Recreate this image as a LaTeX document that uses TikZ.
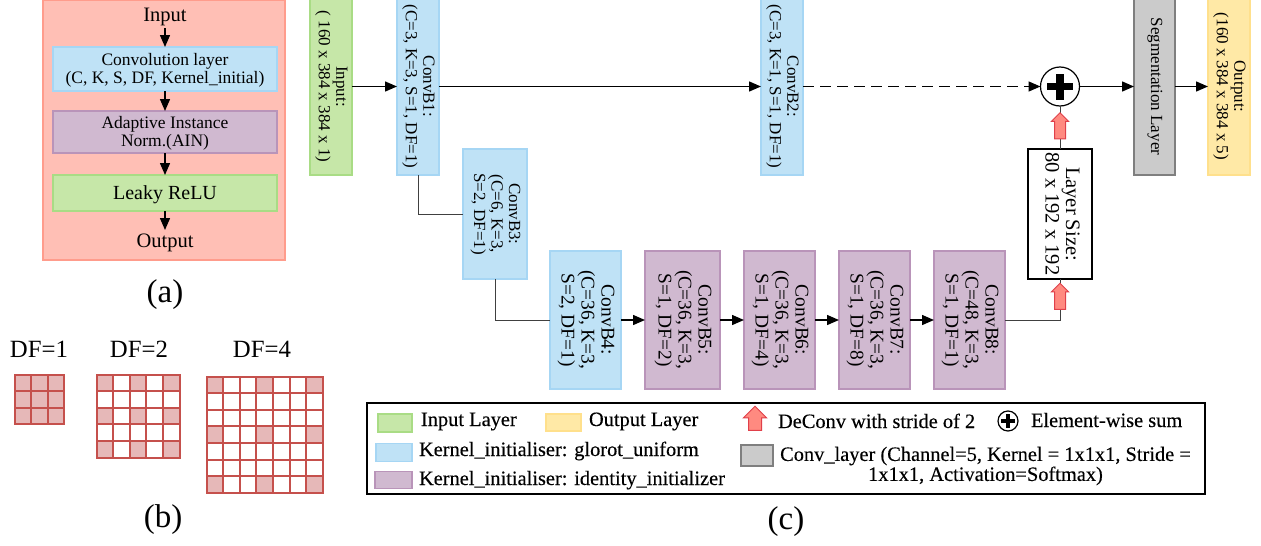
\documentclass[tikz,border=0pt]{standalone}
\usepackage{fontspec}
\usepackage{graphicx}
\setmainfont{Liberation Serif}
\newfontfamily\legfont[FakeBold=0.25]{Liberation Serif}
\usetikzlibrary{arrows.meta,shapes.arrows}
\definecolor{outerF}{HTML}{FFBFB5}\definecolor{outerD}{HTML}{FF9C8C}
\definecolor{blueF}{HTML}{BFE2F6}\definecolor{blueD}{HTML}{A6D6F4}
\definecolor{purpF}{HTML}{D0B9D0}\definecolor{purpD}{HTML}{B994B9}
\definecolor{greenF}{HTML}{C6E7A8}\definecolor{greenD}{HTML}{A9DC85}
\definecolor{yellF}{HTML}{FFE9A6}\definecolor{yellD}{HTML}{FFE08C}
\definecolor{grayF}{HTML}{CBCBCB}\definecolor{grayD}{HTML}{7F7F7F}
\definecolor{gridD}{HTML}{C5504C}\definecolor{gridF}{HTML}{E6B8B8}
\definecolor{redF}{HTML}{FF8A80}\definecolor{redD}{HTML}{E0404A}
\newcommand{\vtext}[2][\fontsize{17}{17.5}\selectfont]{\rotatebox[origin=c]{-90}{#1\begin{tabular}{@{}c@{}}#2\end{tabular}}}
\newcommand{\vlow}[1]{\vtext[\fontsize{19.4}{20}\selectfont]{#1}}
\newcommand{\dn}[1]{\raisebox{0pt}[\dimexpr\height+4pt\relax][\depth]{\begin{tabular}{@{}c@{}}#1\end{tabular}}}
\tikzset{
  x=1pt,y=-1pt,
  boxnode/.style={draw,line width=1.2pt,inner sep=0pt,outer sep=0pt,align=center},
  blueb/.style={boxnode,fill=blueF,draw=blueD},
  purpb/.style={boxnode,fill=purpF,draw=purpD},
  greenb/.style={boxnode,fill=greenF,draw=greenD},
  yellb/.style={boxnode,fill=yellF,draw=yellD},
  grayb/.style={boxnode,fill=grayF,draw=grayD},
  ablock/.style={minimum width=224pt,font=\fontsize{17.5}{18}\selectfont},
  flow/.style={-{Triangle[length=12pt,width=10pt]},line width=1.4pt,black},
  elbow/.style={line width=1pt,draw=black!75},
  redarrow/.style={single arrow,draw=redD,fill=redF,line width=1pt,rotate=90,inner xsep=0pt,inner ysep=5pt,outer sep=0pt,
     minimum height=26pt,single arrow head extend=3pt,single arrow head indent=0pt},
  sumnode/.style={circle,draw=black,fill=white,line width=1.2pt,inner sep=0pt,outer sep=0pt},
  plain/.style={inner sep=0pt,outer sep=0pt},
  legtext/.style={plain,anchor=base west,font=\legfont\fontsize{20.4}{20}\selectfont},
  captext/.style={plain,font=\fontsize{33}{36}\selectfont},
  dflabel/.style={plain,font=\fontsize{24.8}{26}\selectfont},
  ioa/.style={plain,font=\fontsize{20.5}{22}\selectfont},
  gridline/.style={draw=gridD,line width=2pt}
}
\newcommand{\dfgrid}[5]{% x0 y0 cell n step
  \foreach \i in {1,...,#4}{\foreach \j in {1,...,#4}{
    \pgfmathparse{int(mod(\i-1,#5)==0 && mod(\j-1,#5)==0)}
    \ifnum\pgfmathresult=1\def\cellc{gridF}\else\def\cellc{white}\fi
    \filldraw[gridline,fill=\cellc] ({#1+(\i-1)*#3},{#2+(\j-1)*#3}) rectangle ({#1+\i*#3},{#2+\j*#3});
  }}
}
\begin{document}
\begin{tikzpicture}
\useasboundingbox (0,0) rectangle (1261,546);
\clip (0,0) rectangle (1261,546);
% ---------- (a)
\node[boxnode,fill=outerF,draw=outerD,minimum width=242pt,minimum height=260pt] (outer) at (164,130) {};
\node[ioa] (ainput) at (165,17) {Input};
\node[boxnode,ablock,fill=blueF,draw=blueD,minimum height=44pt] (aconv) at (165,69) {\dn{Convolution layer\\(C, K, S, DF, Kernel\_initial)}};
\node[boxnode,ablock,fill=purpF,draw=purpD,minimum height=42pt] (aain) at (165,132) {\dn{Adaptive Instance\\Norm.(AIN)}};
\node[boxnode,ablock,fill=greenF,draw=greenD,minimum height=36pt,font=\fontsize{20}{22}\selectfont] (aleaky) at (165,193) {\dn{Leaky ReLU}};
\node[ioa] (aoutput) at (165,243) {Output};
\coordinate (ai1) at (165,28);
\coordinate (ao1) at (165,230);
\draw[flow] (ai1) -- (aconv.north);
\draw[flow] (aconv.south) -- (aain.north);
\draw[flow] (aain.south) -- (aleaky.north);
\draw[flow] (aleaky.south) -- (ao1);
\node[captext] (capa) at (165,295) {(a)};
% ---------- (b)
\node[dflabel] (df1) at (39,349) {DF=1};
\node[dflabel] (df2) at (139,349) {DF=2};
\node[dflabel] (df4) at (262,349) {DF=4};
\dfgrid{14.5}{374.5}{16.6}{3}{1}
\dfgrid{96.5}{374.5}{16.6}{5}{2}
\dfgrid{206.5}{376.5}{16.6}{7}{3}
\node[captext] (capb) at (163,520) {(b)};
% ---------- (c)
\node[greenb,minimum width=42pt,minimum height=177pt] (inp) at (331,86.5) {\vtext{Input:\\( 160 x 384 x 384 x 1)}};
\node[blueb,minimum width=42pt,minimum height=177pt] (c1) at (418,86.5) {\vtext{ConvB1:\\(C=3, K=3, S=1, DF=1)}};
\node[blueb,minimum width=42pt,minimum height=177pt] (c2) at (782,86.5) {\vtext{ConvB2:\\(C=3, K=1, S=1, DF=1)}};
\node[blueb,minimum width=64pt,minimum height=130pt] (c3) at (495,214) {\vtext{ConvB3:\\(C=6, K=3,\\S=2, DF=1)}};
\node[blueb,minimum width=71pt,minimum height=138pt] (c4) at (585.5,320) {\vlow{ConvB4:\\(C=36, K=3,\\S=2, DF=1)}};
\node[purpb,minimum width=75pt,minimum height=138pt] (c5) at (682.5,320) {\vlow{ConvB5:\\(C=36, K=3,\\S=1, DF=2)}};
\node[purpb,minimum width=71pt,minimum height=138pt] (c6) at (779.5,320) {\vlow{ConvB6:\\(C=36, K=3,\\S=1, DF=4)}};
\node[purpb,minimum width=71pt,minimum height=138pt] (c7) at (874.5,320) {\vlow{ConvB7:\\(C=36, K=3,\\S=1, DF=8)}};
\node[purpb,minimum width=71pt,minimum height=138pt] (c8) at (969.5,320) {\vlow{ConvB8:\\(C=48, K=3,\\S=1, DF=1)}};
\node[grayb,minimum width=41pt,minimum height=177pt] (seg) at (1154.5,86.5) {\vtext{Segmentation Layer}};
\node[yellb,minimum width=42pt,minimum height=177pt] (out) at (1229,86.5) {\vtext{Output:\\(160 x 384 x 384 x 5)}};
\node[boxnode,draw=black,fill=white,minimum width=64pt,minimum height=130pt] (ls) at (1060,214) {\vtext[\fontsize{20.5}{20.5}\selectfont]{Layer Size:\\80 x 192 x 192}};
\node[sumnode,minimum size=39pt] (sum) at (1060,86.5) {};
\fill[black] ([xshift=-13pt,yshift=-3.7pt]sum.center) rectangle ([xshift=13pt,yshift=3.7pt]sum.center);
\fill[black] ([xshift=-3.7pt,yshift=-13pt]sum.center) rectangle ([xshift=3.7pt,yshift=13pt]sum.center);
\draw[flow] (inp.east) -- (c1.west);
\draw[flow] (c1.east) -- (c2.west);
\draw[flow,dash pattern=on 11pt off 6pt] (c2.east) -- (sum.west);
\draw[flow] (sum.east) -- (seg.west);
\draw[flow] (seg.east) -- (out.west);
\draw[elbow] (c1.south) |- (c3.west);
\draw[elbow] (c3.south) |- (c4.west);
\draw[flow] (c4.east) -- (c5.west);
\draw[flow] (c5.east) -- (c6.west);
\draw[flow] (c6.east) -- (c7.west);
\draw[flow] (c7.east) -- (c8.west);
\draw[elbow] (c8.east) -| (ls.south);
\draw[elbow] (ls.north) -- (sum.south);
\node[redarrow] (ra1) at (1060,128.5) {};
\node[redarrow] (ra2) at (1060,299) {};
% ---------- legend
\node[boxnode,draw=black,fill=white,minimum width=838pt,minimum height=91pt] (leg) at (786,448.5) {};
\node[greenb,minimum width=34pt,minimum height=18pt] (sw1) at (395,423) {};
\node[legtext] (l1) at (421,426) {Input Layer};
\node[yellb,minimum width=35pt,minimum height=17pt] (sw2) at (563.5,422.5) {};
\node[legtext] (l2) at (589,426) {Output Layer};
\node[redarrow,inner ysep=6pt,single arrow head extend=5pt,minimum height=24pt] (sw3) at (755,421.5) {};
\node[legtext] (l3) at (778,428) {DeConv with stride of 2};
\node[sumnode,minimum size=20pt] (sw4) at (1008,421) {};
\fill[black] ([xshift=-7pt,yshift=-2pt]sw4.center) rectangle ([xshift=7pt,yshift=2pt]sw4.center);
\fill[black] ([xshift=-2pt,yshift=-7pt]sw4.center) rectangle ([xshift=2pt,yshift=7pt]sw4.center);
\node[legtext] (l4) at (1031,427) {Element-wise sum};
\node[blueb,minimum width=36pt,minimum height=18pt] (sw5) at (394,452.5) {};
\node[legtext] (l5) at (419,456) {Kernel\_initialiser: glorot\_uniform};
\node[purpb,minimum width=37pt,minimum height=17pt] (sw6) at (393.5,480) {};
\node[legtext] (l6) at (419,485) {Kernel\_initialiser: identity\_initializer};
\node[grayb,minimum width=32pt,minimum height=21pt] (sw7) at (757,455.5) {};
\node[legtext,anchor=center,align=center] (l7) at (985.5,466) {Conv\_layer (Channel=5, Kernel = 1x1x1, Stride =\\1x1x1, Activation=Softmax)};
\node[captext] (capc) at (786,522) {(c)};
\end{tikzpicture}
\end{document}
